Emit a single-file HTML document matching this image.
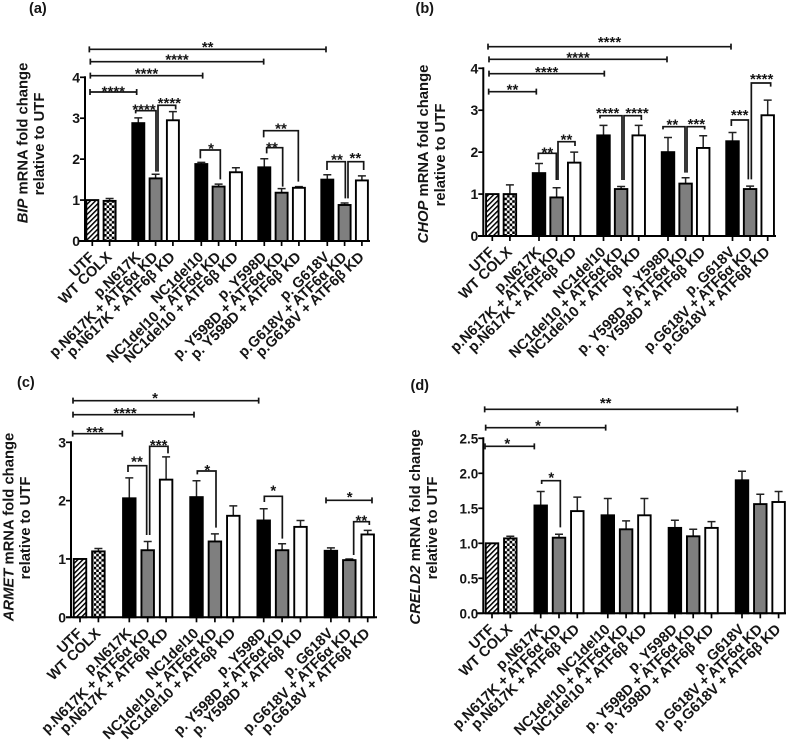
<!DOCTYPE html>
<html>
<head>
<meta charset="utf-8">
<style>
html,body{margin:0;padding:0;background:#fff;width:790px;height:745px;overflow:hidden}
svg{display:block}
text{font-family:"Liberation Sans",sans-serif;font-weight:bold;fill:#151515}
</style>
</head>
<body>
<svg id="fig" width="790" height="745" viewBox="0 0 790 745" xmlns="http://www.w3.org/2000/svg">
<defs>
<pattern id="hatch" patternUnits="userSpaceOnUse" width="3.6" height="3.6" patternTransform="rotate(45)">
<rect width="3.6" height="3.6" fill="#fff"/><rect width="1.5" height="3.6" fill="#000"/>
</pattern>
<pattern id="check" patternUnits="userSpaceOnUse" width="5.2" height="5.2">
<rect width="5.2" height="5.2" fill="#fff"/><rect width="2.6" height="2.6" fill="#000"/><rect x="2.6" y="2.6" width="2.6" height="2.6" fill="#000"/>
</pattern>
</defs>
</svg>
<script>
const categories = ['UTF','WT COLX','p.N617K','p.N617K + ATF6α KD','p.N617K + ATF6β KD','NC1del10','NC1del10 + ATF6α KD','NC1del10 + ATF6β KD','p. Y598D','p. Y598D + ATF6α KD','p. Y598D + ATF6β KD','p. G618V','p.G618V + ATF6α KD','p.G618V + ATF6β KD'];

const bipValues = [1,0.98,2.88,1.53,2.95,1.88,1.33,1.68,1.8,1.18,1.3,1.5,0.88,1.48];
const bipErrors = [0,0.06,0.13,0.10,0.21,0.04,0.06,0.11,0.21,0.10,0.03,0.12,0.05,0.11];
const bipTicks = ['0','1','2','3','4'];

const chopValues = [1,1,1.5,0.92,1.75,2.4,1.12,2.4,2.0,1.25,2.1,2.26,1.12,2.88];
const chopErrors = [0,0.22,0.23,0.23,0.25,0.24,0.06,0.24,0.35,0.14,0.29,0.21,0.07,0.36];
const chopTicks = ['0','1','2','3','4'];

const armetValues = [1,1.13,2.04,1.15,2.36,2.06,1.3,1.74,1.66,1.15,1.55,1.14,0.98,1.42];
const armetErrors = [0,0.05,0.35,0.15,0.39,0.28,0.13,0.17,0.20,0.11,0.11,0.05,0.02,0.07];
const armetTicks = ['0','1','2','3'];

const creld2Values = [1,1.07,1.54,1.08,1.46,1.4,1.2,1.4,1.22,1.1,1.22,1.9,1.56,1.59];
const creld2Errors = [0,0.03,0.20,0.05,0.20,0.24,0.12,0.24,0.11,0.10,0.09,0.13,0.14,0.15];
const creld2Ticks = ['0.0','0.5','1.0','1.5','2.0','2.5'];

const NS = 'http://www.w3.org/2000/svg';
const fig = document.getElementById('fig');

function el(parent, tag, attrs, txt) {
  const e = document.createElementNS(NS, tag);
  for (const k in attrs) e.setAttribute(k, attrs[k]);
  if (txt !== undefined) e.textContent = txt;
  parent.appendChild(e);
  return e;
}

function drawPanel(p) {
  const g = el(fig, 'g', {});
  
  

  const yMax = Number(p.ticks[p.ticks.length - 1]);
  const yScale = v => p.y0 - v * (p.y0 - p.yTop) / yMax;
  const xScale = i => i < 2 ? p.x0 + p.pitch * i
    : p.start + Math.floor((i - 2) / 3) * p.step + ((i - 2) % 3) * p.pitch;

  const fills = i => i === 0 ? 'url(#hatch)' : i === 1 ? 'url(#check)'
    : ['#000', '#7f7f7f', '#fff'][(i - 2) % 3];

  p.values.forEach((v, i) => {
    const x = xScale(i);
    const top = yScale(v);
    if (p.errors[i] > 0) {
      const et = yScale(v + p.errors[i]);
      const err = el(g, 'path', {d: `M${x} ${top}V${et}M${x - 4} ${et}H${x + 4}`, stroke: '#222', 'stroke-width': 1.5, fill: 'none'});
      
      
    }
    const bar = el(g, 'rect', {x: x - p.barW / 2, y: top, width: p.barW, height: p.y0 - top, fill: fills(i), stroke: '#000', 'stroke-width': 1.9});
    
    

    const tick = el(g, 'line', {x1: x, x2: x, y1: p.y0, y2: p.y0 + 5, stroke: '#000', 'stroke-width': 1.7});
    
    

    const lx = x + 3, ly = p.y0 + 17;
    const lab = el(g, 'text', {transform: `translate(${lx} ${ly}) rotate(-44)`, 'text-anchor': 'end', 'font-size': p.labelSize}, categories[i]);
    
    
  });

  const xAxis = el(g, 'line', {x1: p.axL, x2: p.axR, y1: p.y0, y2: p.y0, stroke: '#000', 'stroke-width': 2});
  
  
  const yAxis = el(g, 'line', {x1: p.ax, x2: p.ax, y1: p.y0, y2: p.yTop - 1, stroke: '#000', 'stroke-width': 2});
  
  

  p.ticks.forEach(t => {
    const y = yScale(Number(t));
    const tk = el(g, 'line', {x1: p.ax - 5, x2: p.ax, y1: y, y2: y, stroke: '#000', 'stroke-width': 1.7});
    
    
    const tl = el(g, 'text', {x: p.ax - 5, y: y + 5, 'text-anchor': 'end', 'font-size': p.tickSize}, t);
    
    
  });

  const yt = el(g, 'text', {transform: `translate(${p.yl1x} ${p.ylc}) rotate(-90)`, 'text-anchor': 'middle', 'font-size': 14.8});
  
  
  el(yt, 'tspan', {'font-style': 'italic'}, p.gene);
  el(yt, 'tspan', {}, ' mRNA fold change');
  const yt2 = el(g, 'text', {transform: `translate(${p.yl2x} ${p.ylc + 1}) rotate(-90)`, 'text-anchor': 'middle', 'font-size': 14.8}, 'relative to UTF');
  
  

  const pl = el(g, 'text', {x: p.lx, y: p.ly, 'font-size': 14.5}, '(' + p.id + ')');
  
  

  // significance annotations: x1,x2,yLine,yLeft,yRight,starY,stars,(starX) in 3x crop coordinates
  const rx = v => p.ox + v / 3, ry = v => p.oy + v / 3;
  p.sig.forEach(s => {
    const [a, b, yl, l, r, sy, stars, sx] = s;
    const d = l === null
      ? `M${rx(a)} ${ry(yl - 9)}V${ry(yl + 9)}M${rx(a)} ${ry(yl)}H${rx(b)}M${rx(b)} ${ry(yl - 9)}V${ry(yl + 9)}`
      : `M${rx(a)} ${ry(l)}V${ry(yl)}H${rx(b)}V${ry(r)}`;
    const br = el(g, 'path', {d, fill: 'none', stroke: '#151515', 'stroke-width': 1.7});
    
    
    const cx = sx === undefined ? (a + b) / 2 : sx;
    const st = el(g, 'text', {x: rx(cx), y: ry(sy) + 8.6, 'text-anchor': 'middle', 'font-size': 15}, stars);
    
    
  });
}

drawPanel({id:'a', gene:'BIP', values:bipValues, errors:bipErrors, ticks:bipTicks,
  ax:85, y0:241, yTop:77.3, axL:79, axR:370, x0:92.3, pitch:17.3, start:138.3, step:63, barW:12, labelSize:14.6, tickSize:14,
  yl1x:27.5, yl2x:44, ylc:143, lx:29, ly:13, ox:0, oy:0,
  sig:[[268,978,148,null,null,130,'**'],[271,791,185,null,null,168,'****'],[271,608,227,null,null,210,'****'],[270,410,276,null,null,263,'****'],
  [407,468,332,340,515,317,'****',432],[474,527,316,515,328,298,'****',508],[601,661,450,475,538,434,'*',633],[791,895,392,412,545,375,'**'],[800,848,443,460,560,432,'**',816],[981,1036,485,510,595,468,'**',1011],[1044,1091,485,595,510,463,'**',1066]]});

drawPanel({id:'b', gene:'CHOP', values:chopValues, errors:chopErrors, ticks:chopTicks,
  ax:483.3, y0:236, yTop:68.3, axL:478, axR:776, x0:492.3, pitch:17.6, start:539, step:64.5, barW:12.5, labelSize:14.6, tickSize:14,
  yl1x:428, yl2x:445, ylc:154, lx:415.5, ly:13, ox:395, oy:0,
  sig:[[279,1008,140,null,null,115,'****'],[282,816,178,null,null,162,'****'],[282,628,221,null,null,205,'****'],[281,424,275,null,null,258,'**'],
  [430,484,460,478,540,447,'**'],[489,540,425,540,438,408,'**'],[615,681,347,355,540,328,'****',638],[687,739,347,540,360,328,'****',726],[804,870,380,388,518,362,'**',832],[876,929,380,518,388,361,'***',904],[1009,1060,360,378,538,334,'***',1034],[1069,1127,249,538,260,226,'****',1100]]});

drawPanel({id:'c', gene:'ARMET', values:armetValues, errors:armetErrors, ticks:armetTicks,
  ax:71, y0:617.3, yTop:442.3, axL:66, axR:377, x0:80, pitch:18.4, start:129.3, step:67.2, barW:12.5, labelSize:14.6, tickSize:14,
  yl1x:13.5, yl2x:30, ylc:527, lx:17, ly:387, ox:0, oy:380,
  sig:[[219,776,62,null,null,43,'*',465],[219,582,104,null,null,88,'****',375],[218,367,161,null,null,145,'***',285],
  [384,440,257,276,465,233,'**',411],[449,504,199,465,220,184,'***',476],[592,648,273,283,443,259,'*',622],[793,847,349,366,476,321,'*',820],[978,1116,361,null,null,340,'*',1049],[1061,1108,425,525,435,411,'**',1084]]});

drawPanel({id:'d', gene:'CRELD2', values:creld2Values, errors:creld2Errors, ticks:creld2Ticks,
  ax:483.3, y0:613.3, yTop:438.3, axL:476, axR:786, x0:492, pitch:18.3, start:540.7, step:67.1, barW:12.5, labelSize:14.6, tickSize:13.5,
  yl1x:420, yl2x:437, ylc:527, lx:410.5, ly:390, ox:395, oy:380,
  sig:[[269,1027,88,null,null,58,'**',632],[272,632,143,null,null,125,'*',429],[270,418,199,null,null,180,'*',337],[440,496,302,312,442,281,'*',469]]});
</script>
</body>
</html>
